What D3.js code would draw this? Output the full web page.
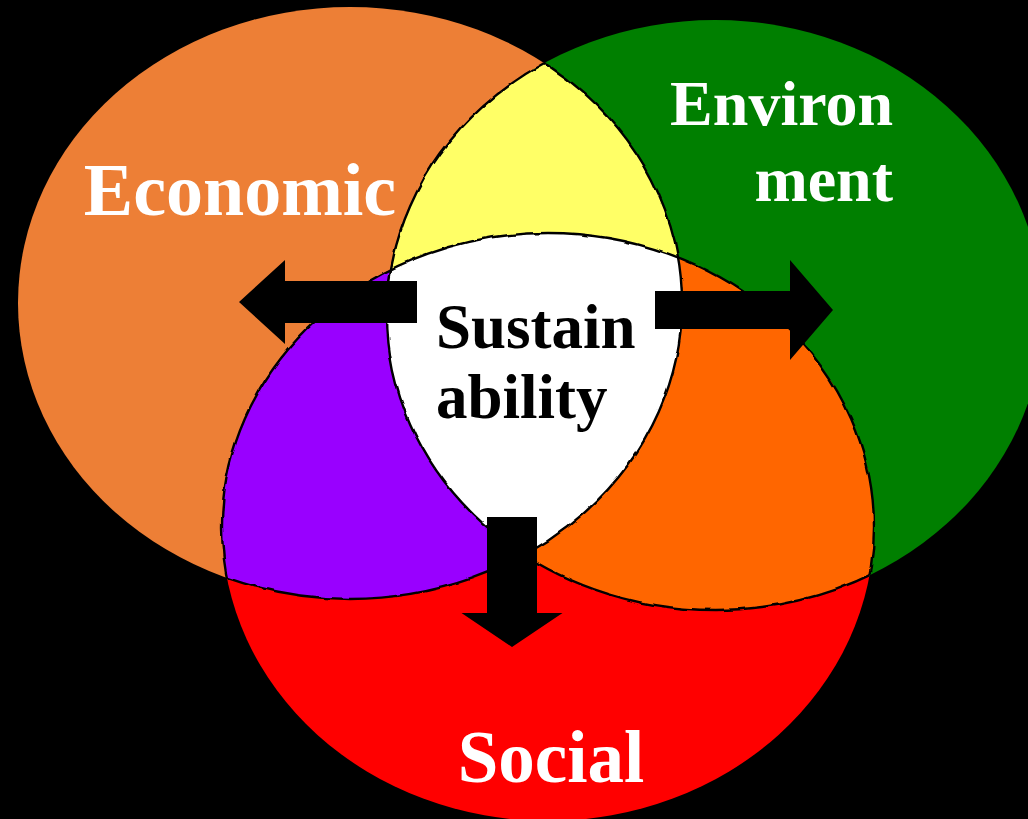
<!DOCTYPE html>
<html>
<head>
<meta charset="utf-8">
<script src="https://cdn.jsdelivr.net/npm/d3@7"></script>
<style>
  html, body { margin: 0; padding: 0; background: #000; }
  svg { display: block; }
</style>
</head>
<body>
<div id="chart"></div>
<script>
// the three sets and the labels drawn on them
const setNames = ["Economic", "Environment", "Social"];
const setLabelLines = [["Economic"], ["Environ", "ment"], ["Social"]];
const centerLabelLines = ["Sustain", "ability"];
// overlap regions: which sets they belong to
const regionSets = [[0, 1], [0, 2], [1, 2], [0, 1, 2]];
// arrows point from the centre out to each set
const arrowTargets = ["Economic", "Environment", "Social"];

const width = 1028, height = 819;

// drawing layout (pixels)
const shapes = [
  { cx: 350, cy: 303, rx: 332, ry: 296 },
  { cx: 715, cy: 315, rx: 328, ry: 295 },
  { cx: 548, cy: 527, rx: 326, ry: 294 }
];
const setColors = ["#ED7F36", "#007F00", "#FF0000"];
const regionColors = ["#FFFF66", "#9900FF", "#FF6600", "#FFFFFF"];

const labelPos = [
  { x: 240, y: 215, size: 74, anchor: "middle", dy: 0 },
  { x: 893, y: 125, size: 64, anchor: "end", dy: 76 },
  { x: 551, y: 782, size: 73, anchor: "middle", dy: 0 }
];
const centerPos = { x: 436, y: 348, size: 63, dy: 70 };

// shaft start, direction, shaft length/width, head length/width
const arrowShapes = [
  { x: 417, y: 302, dir: [-1, 0], len: 132, sw: 42, hl: 46, hw: 84 },
  { x: 655, y: 310, dir: [1, 0], len: 135, sw: 38, hl: 43, hw: 100 },
  { x: 512, y: 517, dir: [0, 1], len: 96, sw: 50, hl: 34, hw: 101 }
];

const svg = d3.select("#chart").append("svg")
  .attr("width", width).attr("height", height);

svg.append("rect").attr("width", width).attr("height", height).attr("fill", "#000");

const defs = svg.append("defs");

function addEllipse(sel, s) {
  return sel.append("ellipse")
    .attr("cx", s.cx).attr("cy", s.cy).attr("rx", s.rx).attr("ry", s.ry);
}

// one clip per set, plus one per pair (union of the other two)
shapes.forEach((s, i) => {
  addEllipse(defs.append("clipPath").attr("id", "clip-" + i), s);
  const others = defs.append("clipPath").attr("id", "clip-others-" + i);
  shapes.forEach((o, j) => { if (j !== i) addEllipse(others, o); });
});

// slight hand-drawn wobble for the overlap shapes
const wobble = defs.append("filter").attr("id", "wobble")
  .attr("x", "-5%").attr("y", "-5%").attr("width", "110%").attr("height", "110%");
wobble.append("feTurbulence").attr("type", "fractalNoise")
  .attr("baseFrequency", 0.05).attr("numOctaves", 2).attr("seed", 4).attr("result", "noise");
wobble.append("feDisplacementMap").attr("in", "SourceGraphic").attr("in2", "noise")
  .attr("scale", 4).attr("xChannelSelector", "R").attr("yChannelSelector", "G");

// base ellipses
svg.append("g").selectAll("ellipse")
  .data(setNames)
  .join("ellipse")
  .attr("cx", (d, i) => shapes[i].cx)
  .attr("cy", (d, i) => shapes[i].cy)
  .attr("rx", (d, i) => shapes[i].rx)
  .attr("ry", (d, i) => shapes[i].ry)
  .attr("fill", (d, i) => setColors[i]);

// overlaps
const overlap = svg.append("g").attr("filter", "url(#wobble)");
regionSets.forEach((sets, r) => {
  let g = overlap;
  sets.slice(1).forEach(k => { g = g.append("g").attr("clip-path", `url(#clip-${k})`); });
  addEllipse(g, shapes[sets[0]]).attr("fill", regionColors[r]);
});

// inner outlines: each ellipse edge where it lies inside another set
shapes.forEach((s, i) => {
  addEllipse(overlap.append("g").attr("clip-path", `url(#clip-others-${i})`), s)
    .attr("fill", "none").attr("stroke", "#000").attr("stroke-width", 2.4);
});

// arrows
function arrowPath(a) {
  const [ux, uy] = a.dir;
  const px = -uy, py = ux;
  const pt = (along, side) => [a.x + ux * along + px * side, a.y + uy * along + py * side];
  const pts = [
    pt(0, -a.sw / 2), pt(a.len, -a.sw / 2), pt(a.len, -a.hw / 2),
    pt(a.len + a.hl, 0),
    pt(a.len, a.hw / 2), pt(a.len, a.sw / 2), pt(0, a.sw / 2)
  ];
  return d3.line()(pts) + "Z";
}
svg.append("g").selectAll("path")
  .data(arrowTargets)
  .join("path")
  .attr("d", (d, i) => arrowPath(arrowShapes[i]))
  .attr("fill", "#000");

// labels
const font = "'Liberation Serif', 'Times New Roman', Times, serif";
setLabelLines.forEach((lines, i) => {
  const p = labelPos[i];
  const t = svg.append("text")
    .attr("x", p.x).attr("y", p.y)
    .attr("text-anchor", p.anchor)
    .attr("font-family", font).attr("font-weight", "bold")
    .attr("font-size", p.size).attr("fill", "#fff");
  lines.forEach((line, k) => {
    t.append("tspan").attr("x", p.x).attr("y", p.y + k * p.dy).text(line);
  });
});

const ct = svg.append("text")
  .attr("font-family", font).attr("font-weight", "bold")
  .attr("font-size", centerPos.size).attr("fill", "#000");
centerLabelLines.forEach((line, k) => {
  ct.append("tspan").attr("x", centerPos.x).attr("y", centerPos.y + k * centerPos.dy).text(line);
});
</script>
</body>
</html>
